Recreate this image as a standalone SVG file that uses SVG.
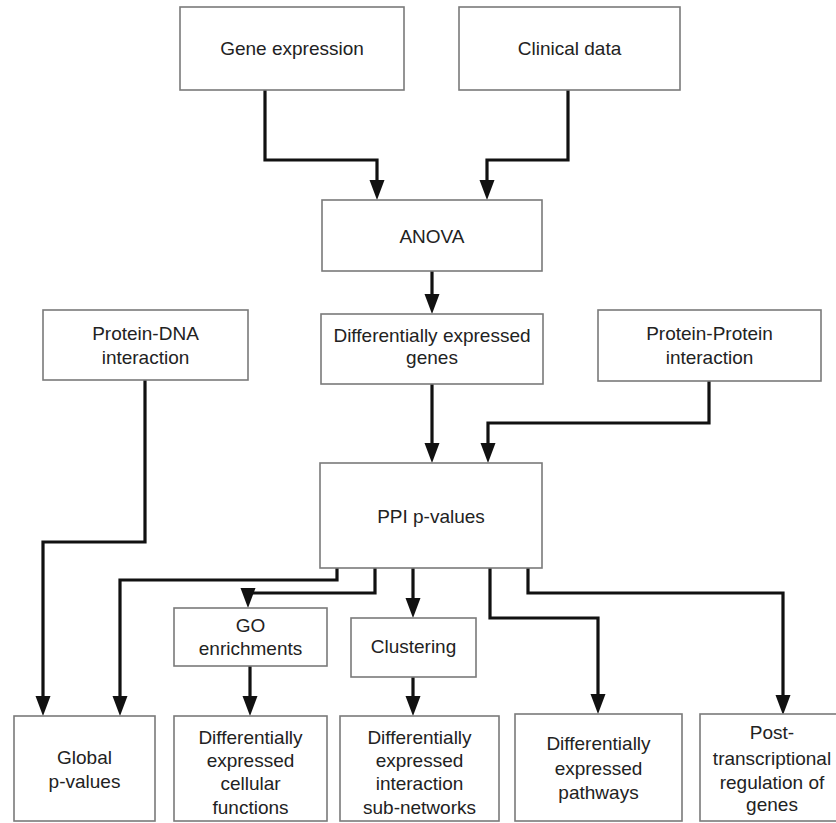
<svg xmlns="http://www.w3.org/2000/svg" width="836" height="823" viewBox="0 0 836 823">
<style>
.box{fill:#fff;stroke:#7a7a7a;stroke-width:1.6}
.t{font-family:"Liberation Sans",Arial,sans-serif;font-size:19px;fill:#222;text-anchor:middle}
.c{fill:none;stroke:#111;stroke-width:3.2}
</style>
<defs>
<marker id="ah" markerUnits="userSpaceOnUse" markerWidth="22" markerHeight="16" refX="10" refY="7.5" orient="auto">
<path d="M0,0 L20,7.5 L0,15 z" fill="#111"/>
</marker>
</defs>
<rect width="836" height="823" fill="#fff"/>
<g id="connectors">
<path class="c" marker-end="url(#ah)" d="M265,90 V160 H377 V190"/>
<path class="c" marker-end="url(#ah)" d="M568,90 V160 H487 V190"/>
<path class="c" marker-end="url(#ah)" d="M432,271 V304"/>
<path class="c" marker-end="url(#ah)" d="M432,384 V453"/>
<path class="c" marker-end="url(#ah)" d="M709,381 V423 H488 V453"/>
<path class="c" marker-end="url(#ah)" d="M145,380 V542 H43 V706"/>
<path class="c" marker-end="url(#ah)" d="M337,568 V580 H120 V706"/>
<path class="c" marker-end="url(#ah)" d="M375,568 V593 H248 V598"/>
<path class="c" marker-end="url(#ah)" d="M413,568 V608"/>
<path class="c" marker-end="url(#ah)" d="M490,568 V618 H598 V704"/>
<path class="c" marker-end="url(#ah)" d="M528,568 V593 H783 V705"/>
<path class="c" marker-end="url(#ah)" d="M250,666 V706"/>
<path class="c" marker-end="url(#ah)" d="M413,677 V706"/>
</g>
<g id="gene-expression"><rect class="box" x="180" y="7" width="224" height="83"/><text class="t" x="292" y="55">Gene expression</text></g>
<g id="clinical-data"><rect class="box" x="459" y="7" width="221" height="83"/><text class="t" x="569.5" y="55">Clinical data</text></g>
<g id="anova"><rect class="box" x="322" y="200" width="220" height="71"/><text class="t" x="432" y="243">ANOVA</text></g>
<g id="protein-dna"><rect class="box" x="43" y="310" width="205" height="70"/><text class="t" x="145.5" y="340">Protein-DNA</text><text class="t" x="145.5" y="364">interaction</text></g>
<g id="deg"><rect class="box" x="321" y="314" width="222" height="70"/><text class="t" x="432" y="342">Differentially expressed</text><text class="t" x="432" y="364">genes</text></g>
<g id="protein-protein"><rect class="box" x="598" y="310" width="223" height="71"/><text class="t" x="709.5" y="340">Protein-Protein</text><text class="t" x="709.5" y="364">interaction</text></g>
<g id="ppi"><rect class="box" x="320" y="463" width="222" height="105"/><text class="t" x="431" y="523">PPI p-values</text></g>
<g id="go"><rect class="box" x="174" y="608" width="153" height="58"/><text class="t" x="250.5" y="632">GO</text><text class="t" x="250.5" y="655">enrichments</text></g>
<g id="clustering"><rect class="box" x="351" y="618" width="125" height="59"/><text class="t" x="413.5" y="653">Clustering</text></g>
<g id="global"><rect class="box" x="14" y="716" width="141" height="105"/><text class="t" x="84.5" y="764">Global</text><text class="t" x="84.5" y="788">p-values</text></g>
<g id="cellular"><rect class="box" x="174" y="716" width="153" height="105"/><text class="t" x="250.5" y="744">Differentially</text><text class="t" x="250.5" y="767">expressed</text><text class="t" x="250.5" y="790">cellular</text><text class="t" x="250.5" y="814">functions</text></g>
<g id="subnetworks"><rect class="box" x="340" y="716" width="159" height="105"/><text class="t" x="419.5" y="744">Differentially</text><text class="t" x="419.5" y="767">expressed</text><text class="t" x="419.5" y="790">interaction</text><text class="t" x="419.5" y="814">sub-networks</text></g>
<g id="pathways"><rect class="box" x="515" y="714" width="167" height="107"/><text class="t" x="598.5" y="750">Differentially</text><text class="t" x="598.5" y="775">expressed</text><text class="t" x="598.5" y="799">pathways</text></g>
<g id="post-transcriptional"><rect class="box" x="700" y="714" width="145" height="107"/><text class="t" x="772" y="739">Post-</text><text class="t" x="772" y="765">transcriptional</text><text class="t" x="772" y="789">regulation of</text><text class="t" x="772" y="811">genes</text></g>
</svg>
